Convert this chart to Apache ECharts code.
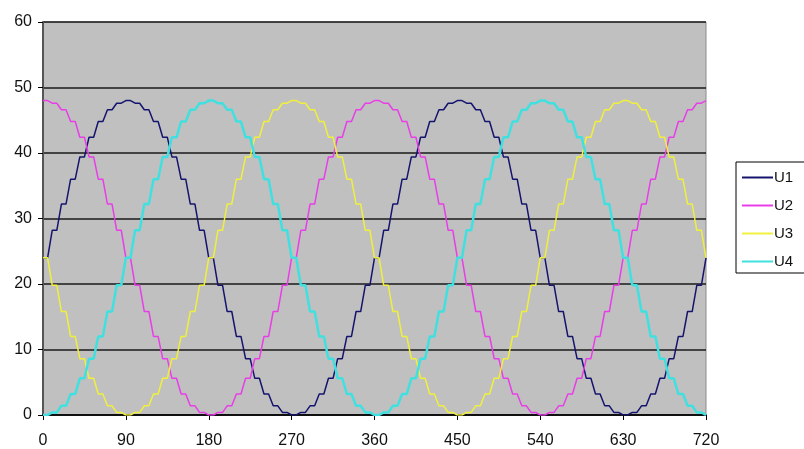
<!DOCTYPE html>
<html>
<head>
<meta charset="utf-8">
<script src="https://cdn.jsdelivr.net/npm/echarts@6/dist/echarts.min.js"></script>
<style>
html,body{margin:0;padding:0;background:#fff;}
#c{width:804px;height:449px;}
</style>
</head>
<body>
<div id="c"></div>
<script>
// sample angles (degrees), one sample every 10 degrees, each held before moving to the next
var angles = [0,10,20,30,40,50,60,70,80,90,100,110,120,130,140,150,160,170,180,190,200,210,220,230,240,250,260,270,280,290,300,310,320,330,340,350,360,370,380,390,400,410,420,430,440,450,460,470,480,490,500,510,520,530,540,550,560,570,580,590,600,610,620,630,640,650,660,670,680,690,700,710,720];
var u1 = [24,28.2,32.2,36,39.4,42.4,44.8,46.6,47.6,48,47.6,46.6,44.8,42.4,39.4,36,32.2,28.2,24,19.8,15.8,12,8.6,5.6,3.2,1.4,0.4,0,0.4,1.4,3.2,5.6,8.6,12,15.8,19.8,24,28.2,32.2,36,39.4,42.4,44.8,46.6,47.6,48,47.6,46.6,44.8,42.4,39.4,36,32.2,28.2,24,19.8,15.8,12,8.6,5.6,3.2,1.4,0.4,0,0.4,1.4,3.2,5.6,8.6,12,15.8,19.8,24];
var u2 = [48,47.6,46.6,44.8,42.4,39.4,36,32.2,28.2,24,19.8,15.8,12,8.6,5.6,3.2,1.4,0.4,0,0.4,1.4,3.2,5.6,8.6,12,15.8,19.8,24,28.2,32.2,36,39.4,42.4,44.8,46.6,47.6,48,47.6,46.6,44.8,42.4,39.4,36,32.2,28.2,24,19.8,15.8,12,8.6,5.6,3.2,1.4,0.4,0,0.4,1.4,3.2,5.6,8.6,12,15.8,19.8,24,28.2,32.2,36,39.4,42.4,44.8,46.6,47.6,48];
var u3 = [24,19.8,15.8,12,8.6,5.6,3.2,1.4,0.4,0,0.4,1.4,3.2,5.6,8.6,12,15.8,19.8,24,28.2,32.2,36,39.4,42.4,44.8,46.6,47.6,48,47.6,46.6,44.8,42.4,39.4,36,32.2,28.2,24,19.8,15.8,12,8.6,5.6,3.2,1.4,0.4,0,0.4,1.4,3.2,5.6,8.6,12,15.8,19.8,24,28.2,32.2,36,39.4,42.4,44.8,46.6,47.6,48,47.6,46.6,44.8,42.4,39.4,36,32.2,28.2,24];
var u4 = [0,0.4,1.4,3.2,5.6,8.6,12,15.8,19.8,24,28.2,32.2,36,39.4,42.4,44.8,46.6,47.6,48,47.6,46.6,44.8,42.4,39.4,36,32.2,28.2,24,19.8,15.8,12,8.6,5.6,3.2,1.4,0.4,0,0.4,1.4,3.2,5.6,8.6,12,15.8,19.8,24,28.2,32.2,36,39.4,42.4,44.8,46.6,47.6,48,47.6,46.6,44.8,42.4,39.4,36,32.2,28.2,24,19.8,15.8,12,8.6,5.6,3.2,1.4,0.4,0];
var seriesNames = ['U1','U2','U3','U4'];
var xTicks = [0,90,180,270,360,450,540,630,720];
var yTicks = [0,10,20,30,40,50,60];

var seriesColors = ['#14146e','#e83ee8','#f0f03c','#40e0e0'];
var seriesWidths = [1.5,1.5,1.5,2.5];

// sample-and-hold: keep each value for half the sample period, then ramp to the next one
function heldPairs(vals){
  var out = [];
  for (var i = 0; i < angles.length; i++) {
    out.push([angles[i], vals[i]]);
    if (i < angles.length - 1) out.push([(angles[i] + angles[i+1]) / 2, vals[i]]);
  }
  return out;
}
var allVals = [u1,u2,u3,u4];
var font = 'Liberation Sans, Arial, sans-serif';

var chart = echarts.init(document.getElementById('c'), null, {renderer:'canvas'});
chart.setOption({
  animation:false,
  backgroundColor:'#ffffff',
  grid:{left:43,right:98,top:22,bottom:34,show:true,backgroundColor:'#c0c0c0',borderColor:'#8c8c8c',borderWidth:1},
  xAxis:{type:'value',min:xTicks[0],max:xTicks[xTicks.length-1],interval:90,
    axisLine:{show:true,onZero:false,lineStyle:{color:'#000',width:1.5}},
    axisTick:{show:true,length:5,lineStyle:{color:'#000'}},
    axisLabel:{color:'#111',fontSize:16,fontFamily:font,margin:18},
    splitLine:{show:false}},
  yAxis:{type:'value',min:yTicks[0],max:yTicks[yTicks.length-1],interval:10,
    axisLine:{show:true,lineStyle:{color:'#555',width:2}},
    axisTick:{show:true,length:5,lineStyle:{color:'#000'}},
    axisLabel:{color:'#111',fontSize:16,fontFamily:font,margin:11},
    splitLine:{show:true,lineStyle:{color:'#1a1a1a',width:1.5}}},
  legend:{orient:'vertical',left:736,top:162,padding:[8,20,4,6],itemGap:13,itemWidth:31,itemHeight:2,
    backgroundColor:'#ffffff',borderColor:'#000',borderWidth:1,
    icon:'rect',
    textStyle:{color:'#111',fontSize:15,fontFamily:font,padding:[0,0,0,-4]},
    data:seriesNames},
  series:seriesNames.map(function(n,i){
    return {name:n,type:'line',symbol:'none',data:heldPairs(allVals[i]),
      lineStyle:{color:seriesColors[i],width:seriesWidths[i]},itemStyle:{color:seriesColors[i]}};
  })
});
</script>
</body>
</html>
